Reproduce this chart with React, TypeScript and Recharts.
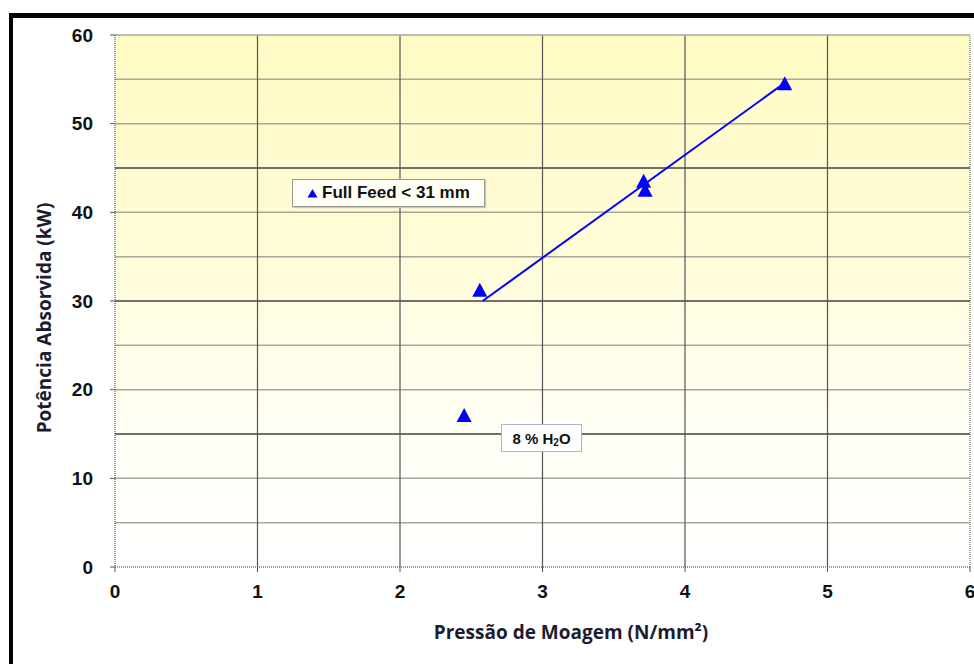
import {
  ScatterChart,
  Scatter,
  XAxis,
  YAxis,
  CartesianGrid,
  ReferenceLine,
} from "recharts";

// grinding pressure (N/mm²) vs absorbed power (kW)
const pressure = [2.45, 2.56, 3.71, 3.72, 4.7];
const power = [17.1, 31.2, 43.5, 42.5, 54.5];

// fitted line through the dry-feed points
const trendPressure = [2.58, 4.7];
const trendPower = [30.0, 54.6];

const xTicks = [0, 1, 2, 3, 4, 5, 6];
const yTicks = [0, 10, 20, 30, 40, 50, 60];
const lightGridY = [5, 10, 20, 25, 35, 40, 50, 55];
const darkGridY = [15, 30, 45];
const gridX = [1, 2, 3, 4, 5];

const points = pressure.map((p, i) => ({ x: p, y: power[i] }));
const trend = trendPressure.map((p, i) => ({ x: p, y: trendPower[i] }));

const tickStyle = {
  fontFamily: "'Liberation Sans', Arial, sans-serif",
  fontWeight: 700,
  fontSize: 19,
  fill: "#111",
};

const titleFont = "'Open Sans', 'Liberation Sans', sans-serif";
const boxFont = "'Liberation Sans', Arial, sans-serif";

// filled marker triangle centred on the point
const Triangle = (props: any) => {
  const { cx, cy } = props;
  const w = 7.5;
  const h = 13;
  return (
    <polygon
      points={`${cx},${cy - h / 2 - 1} ${cx + w},${cy + h / 2} ${cx - w},${cy + h / 2}`}
      fill="#0000ff"
    />
  );
};

export default function App() {
  return (
    <div
      style={{
        position: "absolute",
        left: 0,
        top: 0,
        width: 974,
        height: 664,
        background: "#fff",
        overflow: "hidden",
      }}
    >
      <div
        style={{
          position: "absolute",
          left: 9,
          top: 13,
          width: 970,
          height: 660,
          borderTop: "5px solid #000",
          borderLeft: "4px solid #000",
          boxSizing: "border-box",
        }}
      />
      <ScatterChart
        width={974}
        height={664}
        margin={{ top: 35, right: 4, bottom: 37, left: 15 }}
        style={{ position: "absolute", left: 0, top: 0 }}
      >
        <defs>
          <linearGradient id="plotBg" x1="0" y1="0" x2="0" y2="1">
            <stop offset="0%" stopColor="#fffbc4" />
            <stop offset="40%" stopColor="#fffcd8" />
            <stop offset="78%" stopColor="#fffff8" />
            <stop offset="100%" stopColor="#ffffff" />
          </linearGradient>
        </defs>
        <CartesianGrid
          horizontal={false}
          vertical={false}
          fill="url(#plotBg)"
          stroke="none"
        />
        <XAxis
          type="number"
          dataKey="x"
          domain={[0, 6]}
          ticks={xTicks}
          interval={0}
          height={60}
          tick={tickStyle}
          tickSize={5}
          tickMargin={13}
          axisLine={{ stroke: "#333", strokeDasharray: "1 1" }}
          tickLine={{ stroke: "#555" }}
          label={{
            content: () => (
              <text
                x={571}
                y={639}
                textAnchor="middle"
                fontFamily={titleFont}
                fontWeight={700}
                fontSize={19}
                fill="#1c1c30"
              >
                Pressão de Moagem (N/mm²)
              </text>
            ),
          }}
        />
        <YAxis
          type="number"
          dataKey="y"
          domain={[0, 60]}
          ticks={yTicks}
          interval={0}
          width={100}
          tick={tickStyle}
          tickSize={5}
          tickMargin={17}
          axisLine={{ stroke: "#333", strokeDasharray: "1 1" }}
          tickLine={{ stroke: "#555" }}
          label={{
            content: () => (
              <text
                x={51}
                y={318}
                transform="rotate(-90 51 318)"
                textAnchor="middle"
                fontFamily={titleFont}
                fontWeight={700}
                fontSize={19}
                fill="#1c1c30"
              >
                Potência Absorvida (kW)
              </text>
            ),
          }}
        />
        {lightGridY.map((v) => (
          <ReferenceLine key={`l${v}`} y={v} stroke="#a8a898" strokeWidth={1.5} />
        ))}
        {darkGridY.map((v) => (
          <ReferenceLine key={`d${v}`} y={v} stroke="#707068" strokeWidth={2} />
        ))}
        {gridX.map((v) => (
          <ReferenceLine key={`v${v}`} x={v} stroke="#555" strokeWidth={1.2} />
        ))}
        <ReferenceLine y={60} stroke="#a8a8a0" strokeWidth={1.5} />
        <ReferenceLine x={6} stroke="#555" strokeDasharray="1 1" />
        <Scatter
          name="trend"
          data={trend}
          line={{ stroke: "#0000ff", strokeWidth: 2 }}
          shape={() => <g />}
          isAnimationActive={false}
        />
        <Scatter
          name="Full Feed < 31 mm"
          data={points}
          fill="#0000ff"
          shape={Triangle}
          isAnimationActive={false}
        />
      </ScatterChart>
      {/* legend box */}
      <div
        style={{
          position: "absolute",
          left: 292,
          top: 179,
          width: 193,
          height: 28,
          border: "1px solid #9a9a90",
          background: "#fffff6",
          boxShadow: "1px 1px 1px #c8c8c0",
          display: "flex",
          alignItems: "center",
          boxSizing: "border-box",
          paddingLeft: 14,
          fontFamily: boxFont,
          fontWeight: 700,
          fontSize: 17,
          color: "#111",
        }}
      >
        <svg width={11} height={10} style={{ marginRight: 4 }}>
          <polygon points="5.5,1 10.5,9.5 0.5,9.5" fill="#0000ff" />
        </svg>
        Full Feed &lt; 31 mm
      </div>
      {/* moisture note */}
      <div
        style={{
          position: "absolute",
          left: 501,
          top: 424,
          width: 81,
          height: 28,
          border: "1px solid #a8b8d0",
          background: "#fff",
          boxSizing: "border-box",
          display: "flex",
          alignItems: "center",
          justifyContent: "center",
          fontFamily: boxFont,
          fontWeight: 700,
          fontSize: 15,
          color: "#111",
          whiteSpace: "pre",
        }}
      >
        {"8 % H"}
        <span style={{ fontSize: 10, position: "relative", top: 4 }}>2</span>
        {"O"}
      </div>
    </div>
  );
}
